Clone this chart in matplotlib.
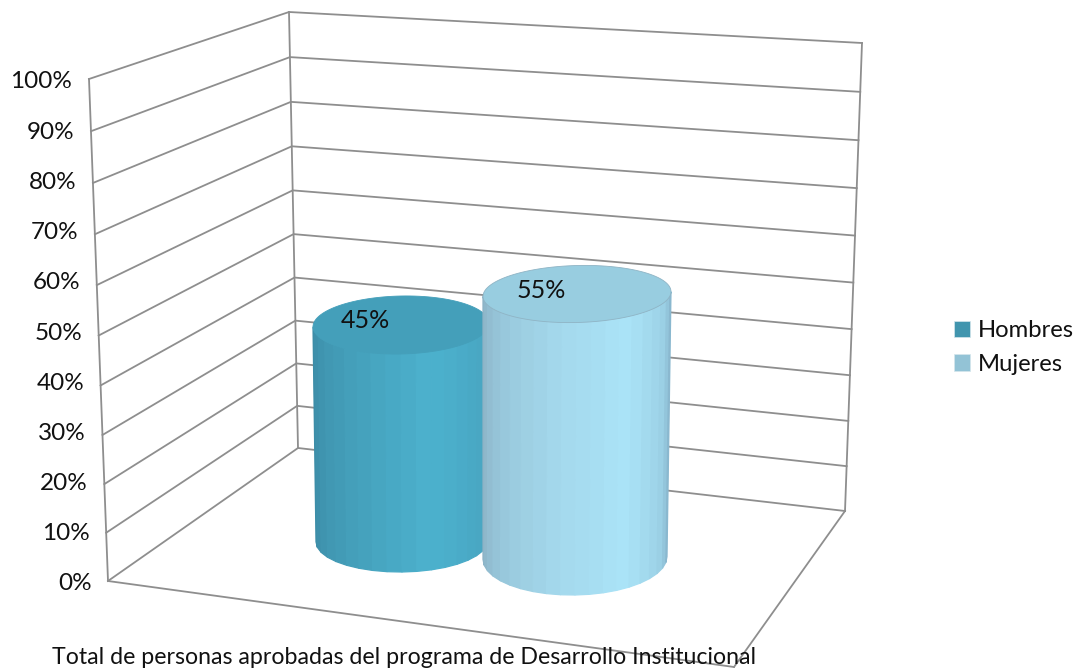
import numpy as np
import matplotlib
matplotlib.use('Agg')
import matplotlib.pyplot as plt
from matplotlib.patches import Patch, Polygon

categories = ['Hombres', 'Mujeres']
values = [45, 55]
value_labels = ['45%', '55%']
ticks = [0, 10, 20, 30, 40, 50, 60, 70, 80, 90, 100]
tick_labels = ['0%', '10%', '20%', '30%', '40%', '50%', '60%', '70%', '80%', '90%', '100%']
axis_title = 'Total de personas aprobadas del programa de Desarrollo Institucional'

plt.rcParams['font.family'] = ['Lato', 'DejaVu Sans']

GRID = '#8e8e8e'
TXT = '#111111'
PX_PER_PCT = 4.8

# box corners in pixels, y goes down
A = (108, 581)   # front left floor
B = (89, 79)     # front left top
C = (298, 448)   # back left floor
D = (289, 12)    # back left top
E = (845, 511)   # back right floor
F = (862, 43)    # back right top
G = (734, 667)   # front right floor


def homography(q):
    # unit square -> quad (0,0) (0,1) (1,0) (1,1)
    src = [(0, 0), (0, 1), (1, 0), (1, 1)]
    M, b = [], []
    for (u, v), (x, y) in zip(src, q):
        M.append([u, v, 1, 0, 0, 0, -u * x, -v * x])
        M.append([0, 0, 0, u, v, 1, -u * y, -v * y])
        b += [x, y]
    h = np.linalg.solve(np.array(M, float), np.array(b, float))
    return np.append(h, 1).reshape(3, 3)


def project(H, u, v):
    p = H @ np.array([u, v, 1.0])
    return p[0] / p[2], p[1] / p[2]


def ellipse(cx, cy, a, b, tilt, th):
    x = cx - a * np.cos(th)
    y = cy + b * np.sin(th) - (x - cx) * tilt
    return x, y


def draw_cylinder(ax, val, bottom, top, colors, lid, outline, z):
    (bx, by, ba, bb, bt) = bottom
    (tx, ta, tb, tt) = top
    ty = by - val * PX_PER_PCT
    n = len(colors)
    th = np.linspace(0, np.pi, n + 1)
    xb, yb = ellipse(bx, by, ba, bb, bt, th)
    xt, yt = ellipse(tx, ty, ta, tb, tt, th)
    for i in range(n):
        pts = [(xb[i], yb[i]), (xb[i + 1], yb[i + 1]), (xt[i + 1], yt[i + 1]), (xt[i], yt[i])]
        ax.add_patch(Polygon(pts, closed=True, fc=colors[i], ec=colors[i], lw=0.9, zorder=z))
    full = np.linspace(0, 2 * np.pi, 121)
    xl, yl = ellipse(tx, ty, ta, tb, tt, full)
    ax.add_patch(Polygon(np.column_stack([xl, yl]), closed=True, fc=lid, ec=outline, lw=0.6, zorder=z + 1))
    return tx, ty


def ramp(stops, n):
    pos = [s[0] for s in stops]
    rgb = np.array([matplotlib.colors.to_rgb(s[1]) for s in stops])
    t = (np.arange(n) + 0.5) / n
    return [tuple(np.interp(x, pos, rgb[:, k]) for k in range(3)) for x in t]


fig = plt.figure(figsize=(10.79, 6.68), dpi=100)
ax = fig.add_axes([0, 0, 1, 1])
ax.set_xlim(0, 1079)
ax.set_ylim(668, 0)
ax.axis('off')

left = homography([A, B, C, D])
back = homography([C, D, E, F])

for t, lab in zip(ticks, tick_labels):
    v = t / 100
    p0 = project(left, 0, v)
    p1 = project(left, 1, v)
    p2 = project(back, 1, v)
    ax.plot([p0[0], p1[0], p2[0]], [p0[1], p1[1], p2[1]], color=GRID, lw=1.3, zorder=1)
    # labels stay evenly spaced, they do not follow the perspective
    ax.text(92 - 0.2 * t, 584 - 5.02 * t, lab, ha='right', va='center', fontsize=17.5, color=TXT)

for p, q in [(A, B), (C, D), (E, F), (A, G), (G, E)]:
    ax.plot([p[0], q[0]], [p[1], q[1]], color=GRID, lw=1.3, zorder=1)

shade1 = ramp([(0, '#3c8ba5'), (0.2, '#4198b3'), (0.6, '#4cb1cd'), (0.9, '#48a6c2'), (1, '#4199b3')], 18)
shade2 = ramp([(0, '#8aafc2'), (0.2, '#97c6da'), (0.45, '#a4d9ed'), (0.68, '#aae3f7'), (0.88, '#9bd0e5'), (1, '#85b2c9')], 20)

c1 = draw_cylinder(ax, values[0], (402, 541, 86, 31, 0.01), (401, 88, 29, 0.02), shade1, '#449fba', '#449fba', 3)
c2 = draw_cylinder(ax, values[1], (575, 558, 92, 37, 0.015), (577, 94, 28.5, 0.025), shade2, '#98cde0', '#8fb4c5', 5)

for c, lab in zip([c1, c2], value_labels):
    ax.text(c[0] - 36, c[1] - 4, lab, ha='center', va='center', fontsize=18, color=TXT, zorder=7)

ax.text(404.5, 657, axis_title, ha='center', va='center', fontsize=16.7, color=TXT, zorder=7)

handles = [Patch(fc='#4195ae', ec='#d5e6ec', lw=0.5), Patch(fc='#93c3d6', ec='#d5e6ec', lw=0.5)]
ax.legend(handles, categories, loc='center left', bbox_to_anchor=(954 / 1079, 1 - 347.5 / 668),
          frameon=False, fontsize=17.2, labelcolor=TXT, handlelength=0.67, handleheight=0.67,
          handletextpad=0.33, labelspacing=0.53, borderpad=0, borderaxespad=0)

fig.savefig('out.png', dpi=100)
